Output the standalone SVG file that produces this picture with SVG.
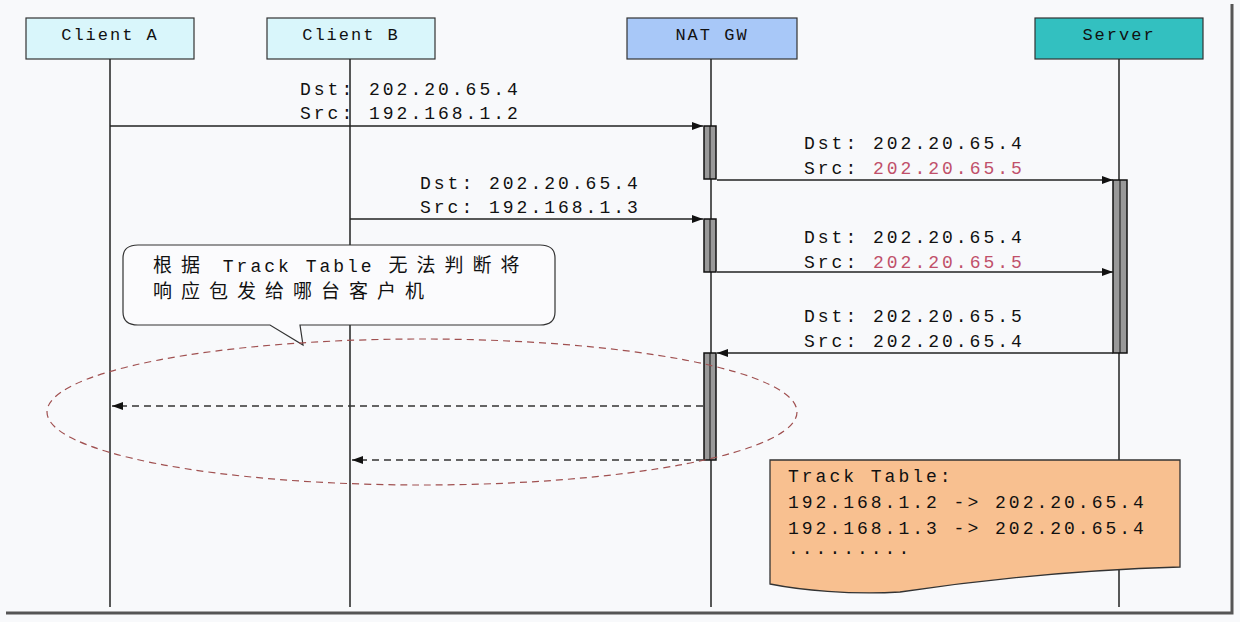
<svg xmlns="http://www.w3.org/2000/svg" width="1240" height="622" viewBox="0 0 1240 622">
<style>
.hd{stroke:#333;stroke-width:1.2}
.ht{font-family:"Liberation Mono",monospace;font-size:17px;letter-spacing:2px;text-anchor:middle;fill:#111}
.t{font-family:"Liberation Mono","Noto Sans CJK SC",monospace;font-size:18px;letter-spacing:3px;fill:#111}
.cj{font-size:19px;letter-spacing:9px}
.red{fill:#c0506a}
.ll{stroke:#222;stroke-width:1.5}
.bar{fill:#999;stroke:#111;stroke-width:1.5}
.m{stroke:#222;stroke-width:1.3;fill:none}
.d{stroke:#333;stroke-width:1.3;fill:none;stroke-dasharray:7 5}
</style>
<defs><marker id="a" markerWidth="12" markerHeight="10" refX="11" refY="5" orient="auto" markerUnits="userSpaceOnUse"><path d="M0,1 L11,5 L0,9 Z" fill="#111"/></marker></defs>
<rect x="0" y="0" width="1240" height="622" fill="#f8f9fb"/>
<path d="M1232,4 V613 H6" fill="none" stroke="#555" stroke-width="3"/>
<g id="clientA"><rect x="26" y="18" width="168" height="41" fill="#d9f6fb" class="hd"/><text class="ht" x="110" y="40">Client A</text><line class="ll" x1="110" y1="59" x2="110" y2="607"/></g>
<g id="clientB"><rect x="267" y="18" width="168" height="41" fill="#d9f6fb" class="hd"/><text class="ht" x="351" y="40">Client B</text><line class="ll" x1="350" y1="59" x2="350" y2="607"/></g>
<g id="natgw"><rect x="627" y="18" width="170" height="41" fill="#a8c8f8" class="hd"/><text class="ht" x="712" y="40">NAT GW</text><line class="ll" x1="711" y1="59" x2="711" y2="607"/>
<rect class="bar" x="704" y="126" width="12" height="53"/><rect class="bar" x="704" y="219" width="12" height="53"/><rect class="bar" x="704" y="353" width="12" height="107"/>
<line x1="710" y1="126" x2="710" y2="179" stroke="#111"/><line x1="710" y1="219" x2="710" y2="272" stroke="#111"/><line x1="710" y1="353" x2="710" y2="460" stroke="#111"/></g>
<g id="server"><rect x="1035" y="18" width="168" height="41" fill="#33c0c0" class="hd"/><text class="ht" x="1119" y="40">Server</text><line class="ll" x1="1119" y1="59" x2="1119" y2="607"/>
<rect class="bar" x="1113" y="180" width="14" height="173"/><line x1="1120" y1="180" x2="1120" y2="353" stroke="#111"/></g>
<g id="connectors">
<line class="m" x1="110" y1="126" x2="703" y2="126" marker-end="url(#a)"/>
<line class="m" x1="717" y1="180" x2="1113" y2="180" marker-end="url(#a)"/>
<line class="m" x1="350" y1="219" x2="703" y2="219" marker-end="url(#a)"/>
<line class="m" x1="717" y1="272" x2="1113" y2="272" marker-end="url(#a)"/>
<line class="m" x1="1113" y1="353" x2="717" y2="353" marker-end="url(#a)"/>
<line class="d" x1="703" y1="406" x2="112" y2="406" marker-end="url(#a)"/>
<line class="d" x1="703" y1="460" x2="352" y2="460" marker-end="url(#a)"/>
</g>
<g id="labels">
<text class="t" x="300" y="95">Dst: 202.20.65.4</text><text class="t" x="300" y="119">Src: 192.168.1.2</text>
<text class="t" x="804" y="149">Dst: 202.20.65.4</text><text class="t" x="804" y="174">Src: <tspan class="red">202.20.65.5</tspan></text>
<text class="t" x="420" y="189">Dst: 202.20.65.4</text><text class="t" x="420" y="213">Src: 192.168.1.3</text>
<text class="t" x="804" y="243">Dst: 202.20.65.4</text><text class="t" x="804" y="268">Src: <tspan class="red">202.20.65.5</tspan></text>
<text class="t" x="804" y="322">Dst: 202.20.65.5</text><text class="t" x="804" y="347">Src: 202.20.65.4</text>
</g>
<g id="callout"><path d="M138,245 H540 Q555,245 555,258 V312 Q555,325 540,325 H300 L303,345 L270,325 H138 Q123,325 123,312 V258 Q123,245 138,245 Z" fill="#fbfbfd" stroke="#333" stroke-width="1.2"/>
<text class="t" x="153" y="272"><tspan class="cj">根据</tspan> Track Table <tspan class="cj">无法判断将</tspan></text><text class="t cj" x="153" y="298">响应包发给哪台客户机</text></g>
<g id="ellipse"><ellipse cx="422" cy="412" rx="375" ry="73" fill="none" stroke="#a05050" stroke-width="1.2" stroke-dasharray="7 5"/></g>
<g id="tracktable"><path d="M770,460 H1180 V567 C1080,570 980,580 900,592 C850,595 800,590 770,584 Z" fill="#f8c090" stroke="#333" stroke-width="1.3"/>
<text class="t" x="788" y="482" fill="#3a1a10">Track Table:</text>
<text class="t" x="788" y="508" fill="#3a1a10">192.168.1.2 -&gt; 202.20.65.4</text>
<text class="t" x="788" y="534" fill="#3a1a10">192.168.1.3 -&gt; 202.20.65.4</text>
<text class="t" x="788" y="554" fill="#3a1a10">.........</text></g>
</svg>
